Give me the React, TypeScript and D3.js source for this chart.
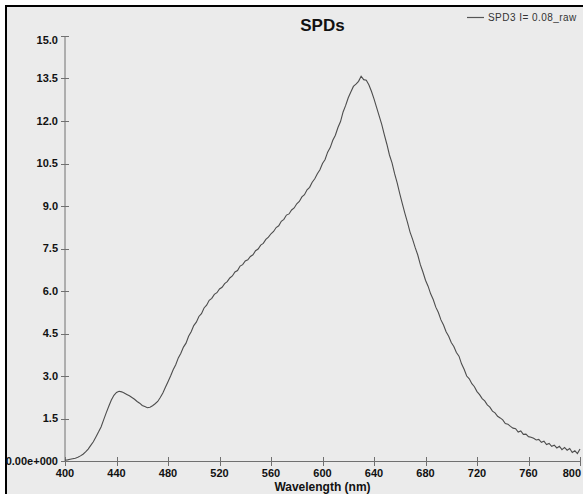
import React from "react";
import * as d3 from "d3";

const TITLE = "SPDs";
const SERIES_NAME = "SPD3 I= 0.08_raw";
const X_LABEL = "Wavelength (nm)";
const X_START = 400;
const X_STEP = 2;
const X_TICKS = [400, 440, 480, 520, 560, 600, 640, 680, 720, 760, 800];
const Y_TICKS = [0, 1.5, 3.0, 4.5, 6.0, 7.5, 9.0, 10.5, 12.0, 13.5, 15.0];

// spectral power values, one every 2 nm from 400 to 800 nm
const SPD_VALUES = [
  0.03, 0.04, 0.06, 0.08, 0.10, 0.13, 0.18, 0.24, 0.32, 0.42,
  0.55, 0.68, 0.85, 1.02, 1.20, 1.45, 1.70, 1.93, 2.15, 2.32,
  2.42, 2.46, 2.44, 2.40, 2.35, 2.30, 2.24, 2.18, 2.10, 2.04,
  1.96, 1.92, 1.88, 1.90, 1.95, 2.02, 2.10, 2.24, 2.40, 2.60,
  2.80, 3.00, 3.22, 3.40, 3.64, 3.80, 4.02, 4.16, 4.40, 4.56,
  4.78, 4.90, 5.10, 5.20, 5.40, 5.50, 5.67, 5.74, 5.88, 5.94,
  6.07, 6.13, 6.26, 6.33, 6.46, 6.53, 6.67, 6.72, 6.88, 6.93,
  7.06, 7.10, 7.22, 7.28, 7.42, 7.48, 7.62, 7.68, 7.82, 7.90,
  8.02, 8.10, 8.24, 8.30, 8.46, 8.53, 8.68, 8.72, 8.86, 8.93,
  9.08, 9.16, 9.32, 9.40, 9.57, 9.66, 9.84, 9.96, 10.14, 10.28,
  10.50, 10.64, 10.90, 11.06, 11.32, 11.50, 11.77, 11.98, 12.32, 12.55,
  12.82, 13.02, 13.22, 13.30, 13.40, 13.58, 13.46, 13.44, 13.28, 13.05,
  12.78, 12.48, 12.18, 11.88, 11.52, 11.18, 10.80, 10.52, 10.14, 9.82,
  9.44, 9.08, 8.74, 8.42, 8.08, 7.82, 7.53, 7.27, 6.93, 6.67,
  6.38, 6.17, 5.90, 5.70, 5.43, 5.24, 4.98, 4.80, 4.56, 4.40,
  4.18, 4.04, 3.83, 3.70, 3.43, 3.24, 3.00, 2.90, 2.73, 2.62,
  2.45, 2.34, 2.20, 2.12, 1.98, 1.90, 1.76, 1.70, 1.58, 1.52,
  1.45, 1.32, 1.30, 1.22, 1.16, 1.14, 1.02, 1.06, 0.94, 0.95,
  0.86, 0.84, 0.80, 0.74, 0.76, 0.66, 0.70, 0.58, 0.62, 0.52,
  0.56, 0.46, 0.52, 0.40, 0.48, 0.38, 0.44, 0.30, 0.36, 0.26,
  0.42,
];

const W = 583;
const H = 494;
const M = { left: 65, right: 580, top: 36, bottom: 461 };
const FONT = "'Liberation Sans', Arial, sans-serif";

export default function App() {
  const data = SPD_VALUES.map((v, i) => ({ x: X_START + i * X_STEP, y: v }));
  const x = d3.scaleLinear().domain([400, 800]).range([M.left, M.right]);
  const y = d3.scaleLinear().domain([0, 15]).range([M.bottom, M.top]);
  const line = d3
    .line<{ x: number; y: number }>()
    .x((d) => x(d.x))
    .y((d) => y(d.y));
  const axisColor = "#707070";
  const lastX = X_TICKS[X_TICKS.length - 1];

  return (
    <svg
      width={W}
      height={H}
      style={{ position: "absolute", left: 0, top: 0, display: "block" }}
      fontFamily={FONT}
    >
      <rect x={0} y={0} width={W} height={H} fill="#ffffff" />
      <rect x={6} y={6} width={W + 10} height={H + 10} fill="#ebebeb" stroke="#000" strokeWidth={2} />

      <text x={(M.left + M.right) / 2} y={31} textAnchor="middle" fontWeight="bold" fontSize={17} fill="#111">
        {TITLE}
      </text>

      {/* legend */}
      <line x1={467} x2={484} y1={17.5} y2={17.5} stroke="#555" strokeWidth={1.2} />
      <text x={488} y={21} fontSize={10} letterSpacing={0.45} fill="#333">
        {SERIES_NAME}
      </text>

      {/* y axis */}
      <line x1={M.left} x2={M.left} y1={M.top} y2={M.bottom} stroke={axisColor} strokeWidth={1} />
      {Y_TICKS.map((t) => (
        <g key={"y" + t}>
          <line x1={61} x2={69} y1={Math.round(y(t)) + 0.5} y2={Math.round(y(t)) + 0.5} stroke={axisColor} />
          <text
            x={58}
            y={y(t) + (t === 15 ? 4 : 0)}
            dy="0.35em"
            textAnchor="end"
            fontSize={11}
            fontWeight="bold"
            fill="#111"
          >
            {t === 0 ? "0.00e+000" : t.toFixed(1)}
          </text>
        </g>
      ))}

      {/* x axis */}
      <line x1={M.left} x2={M.right} y1={M.bottom + 0.5} y2={M.bottom + 0.5} stroke={axisColor} strokeWidth={1} />
      {X_TICKS.map((t) => (
        <g key={"x" + t}>
          <line x1={Math.round(x(t)) + 0.5} x2={Math.round(x(t)) + 0.5} y1={457} y2={466} stroke={axisColor} />
          <text
            x={t === lastX ? x(t) + 1 : x(t)}
            y={477}
            textAnchor={t === lastX ? "end" : "middle"}
            fontSize={11}
            fontWeight="bold"
            fill="#111"
          >
            {t}
          </text>
        </g>
      ))}
      <text x={(M.left + M.right) / 2} y={491} textAnchor="middle" fontSize={12} fontWeight="bold" fill="#111">
        {X_LABEL}
      </text>

      <path d={line(data) || ""} fill="none" stroke="#4d4d4d" strokeWidth={1.1} />
    </svg>
  );
}
